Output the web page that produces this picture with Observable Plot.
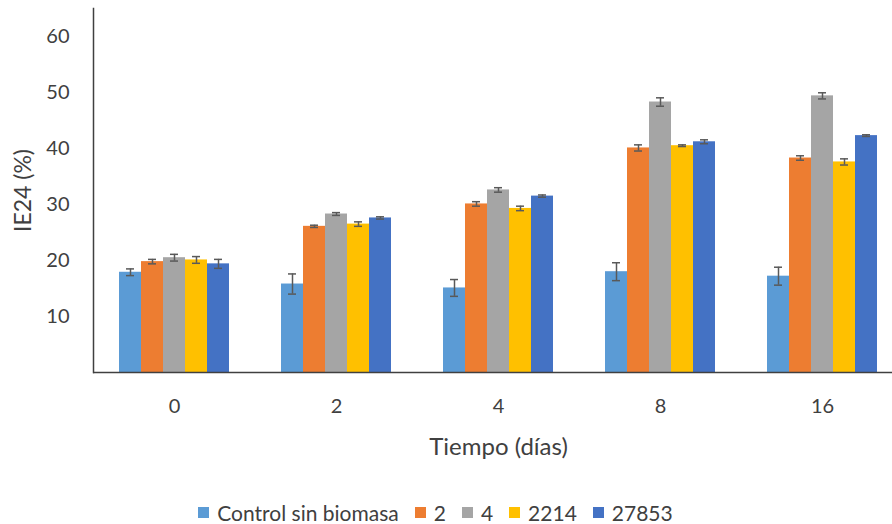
<!DOCTYPE html>
<html><head><meta charset="utf-8">
<script src="https://cdn.jsdelivr.net/npm/d3@7"></script>
<script src="https://cdn.jsdelivr.net/npm/@observablehq/plot@0.6"></script>
<style>
html,body{margin:0;padding:0;background:#fff;overflow:hidden;}
body{width:892px;height:524px;position:relative;font-family:Lato,"Open Sans",sans-serif;}
#legend{position:absolute;left:0;top:500px;width:892px;height:24px;display:flex;justify-content:center;align-items:center;padding-right:21px;box-sizing:border-box;font-size:21px;color:#404040;}
#legend .item{display:flex;align-items:center;margin:0 8px;}
#legend .sw{width:11px;height:11px;margin-right:8px;}
</style></head><body><div id="chart"></div><div id="legend"></div>
<script>
const days = ["0", "2", "4", "8", "16"];
const seriesNames = ["Control sin biomasa", "2", "4", "2214", "27853"];
const seriesColors = ["#5B9BD5", "#ED7D31", "#A5A5A5", "#FFC000", "#4472C4"];
const yTicks = [10, 20, 30, 40, 50, 60];

const control = [17.9, 15.8, 15.1, 18.0, 17.2];
const controlErr = [0.6, 1.8, 1.5, 1.6, 1.6];
const s2 = [19.8, 26.1, 30.1, 40.1, 38.3];
const s2Err = [0.4, 0.2, 0.4, 0.55, 0.4];
const s4 = [20.5, 28.3, 32.6, 48.3, 49.4];
const s4Err = [0.6, 0.25, 0.4, 0.75, 0.55];
const s2214 = [20.1, 26.5, 29.3, 40.5, 37.6];
const s2214Err = [0.6, 0.4, 0.4, 0.15, 0.55];
const s27853 = [19.4, 27.6, 31.5, 41.2, 42.3];
const s27853Err = [0.8, 0.2, 0.2, 0.35, 0.15];

const seriesValues = [control, s2, s4, s2214, s27853];
const seriesErrors = [controlErr, s2Err, s4Err, s2214Err, s27853Err];

const data = [];
days.forEach((d, i) => seriesNames.forEach((s, j) => {
  data.push({day: d, series: s, value: seriesValues[j][i], err: seriesErrors[j][i]});
}));

const txt = "#404040";
const chart = Plot.plot({
  width: 892, height: 470,
  marginTop: 8, marginBottom: 98, marginLeft: 92, marginRight: 0,
  style: {fontFamily: "Lato, 'Open Sans', sans-serif", fontSize: "20px", color: txt, background: "#fff"},
  fx: {domain: days, range: [91.8, 903.8], paddingInner: 0, paddingOuter: 0, label: null, axis: null},
  x: {domain: seriesNames, axis: null, paddingInner: 0, paddingOuter: 1.093, align: 0.5},
  y: {domain: [0, 65], axis: null},
  color: {domain: seriesNames, range: seriesColors},
  marks: [
    Plot.barY(data, {fx: "day", x: "series", y: "value", fill: "series", insetLeft: 0, insetRight: 0}),
    Plot.ruleX(data, {fx: "day", x: "series", y1: d => d.value - d.err, y2: d => d.value + d.err, stroke: "#595959", strokeWidth: 1.5}),
    Plot.tickY(data, {fx: "day", x: "series", y: d => d.value - d.err, stroke: "#595959", strokeWidth: 1.5, insetLeft: 7, insetRight: 7}),
    Plot.tickY(data, {fx: "day", x: "series", y: d => d.value + d.err, stroke: "#595959", strokeWidth: 1.5, insetLeft: 7, insetRight: 7}),
    Plot.ruleY([0], {stroke: txt, strokeWidth: 1.5}),
    Plot.axisY({ticks: yTicks, tickSize: 0, tickPadding: 24, label: null, fontSize: 20}),
    Plot.axisY({ticks: [], tickSize: 0, label: "IE24 (%)", labelAnchor: "center", labelArrow: "none", labelOffset: 79, fontSize: 23}),
    Plot.axisFx({anchor: "bottom", tickSize: 0, tickPadding: 26, label: null, fontSize: 20}),
    Plot.axisFx({anchor: "bottom", ticks: [], tickSize: 0, label: "Tiempo (días)", labelAnchor: "center", labelArrow: "none", labelOffset: 82, fontSize: 24}),
    Plot.frame({anchor: "left", facetAnchor: "left", stroke: txt, strokeWidth: 1.5})
  ]
});
document.getElementById("chart").append(chart);

const legend = document.getElementById("legend");
seriesNames.forEach((s, j) => {
  const it = document.createElement("div");
  it.className = "item";
  const sw = document.createElement("div");
  sw.className = "sw";
  sw.style.background = seriesColors[j];
  const t = document.createElement("span");
  t.textContent = s;
  it.append(sw, t);
  legend.append(it);
});
</script>
</body></html>
